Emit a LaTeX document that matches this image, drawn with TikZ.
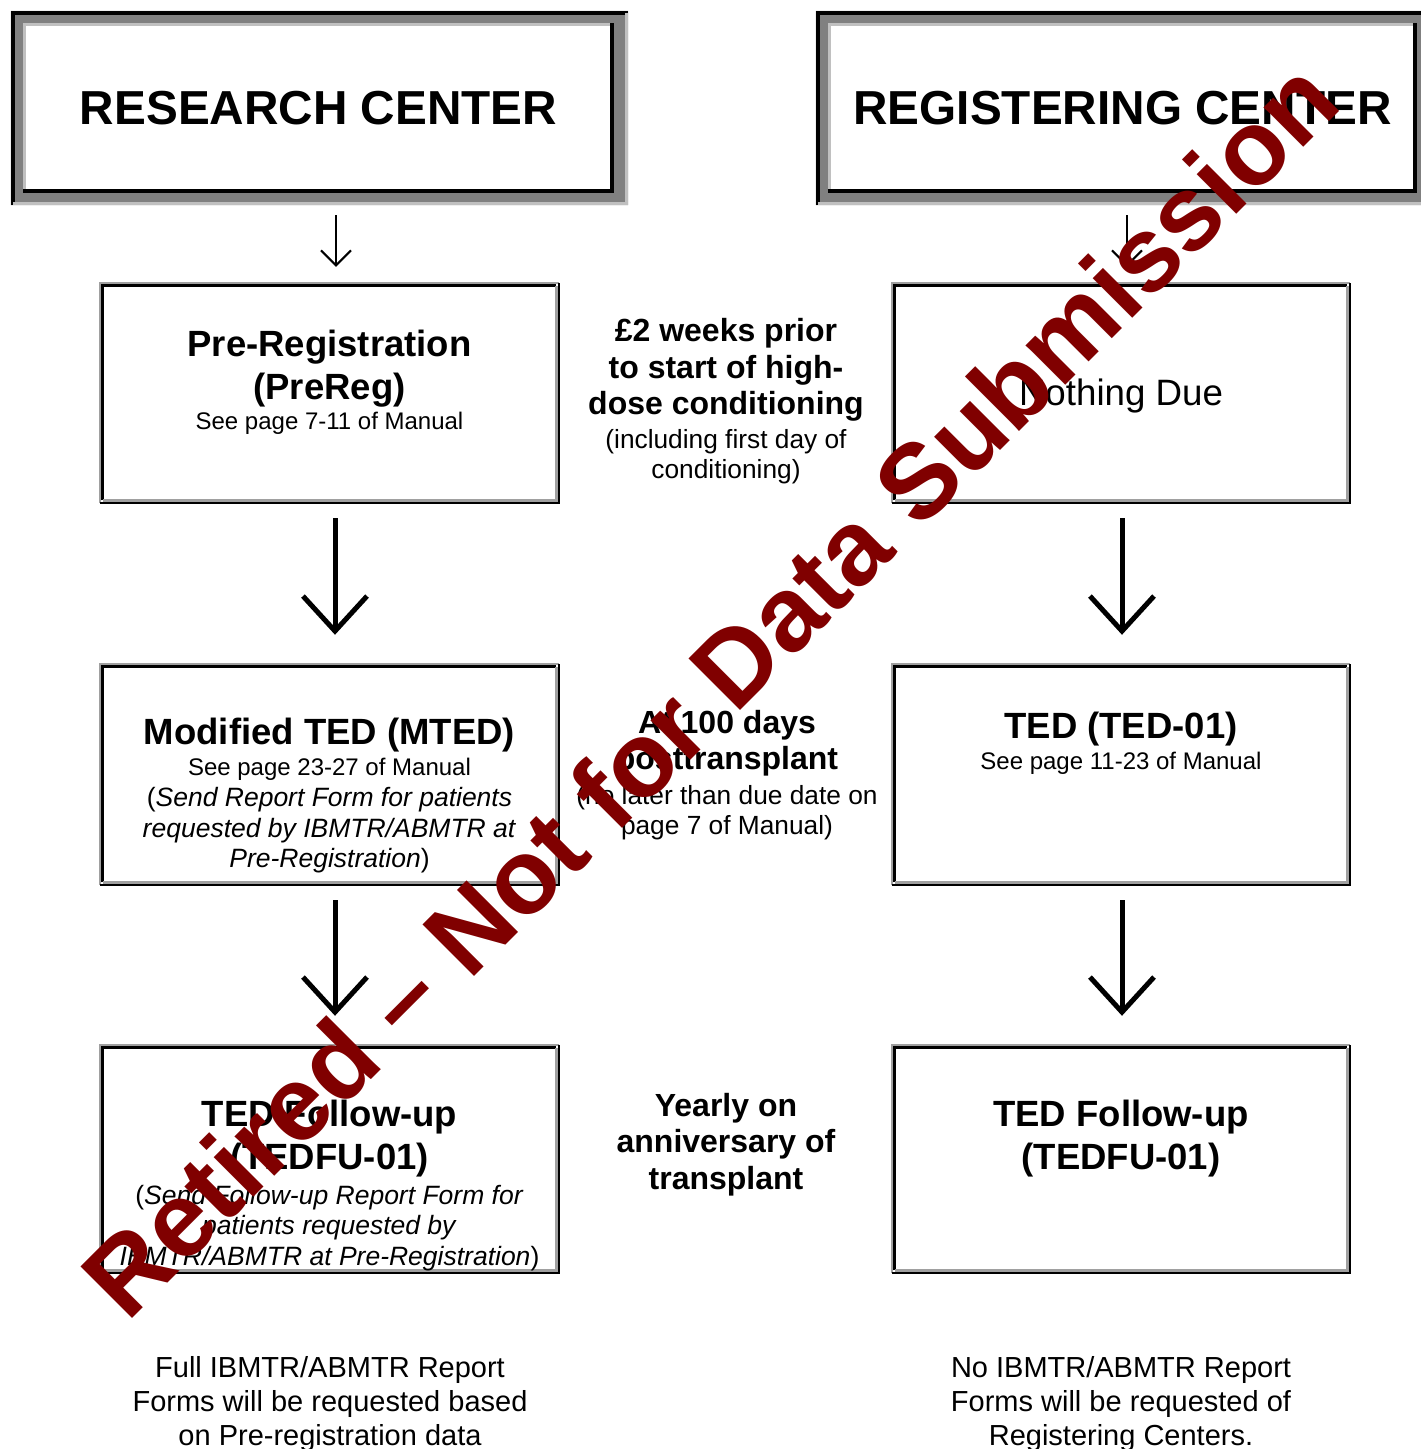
\documentclass[tikz,border=0pt]{standalone}
\usepackage{fontspec}
\setmainfont{Liberation Sans}
\usetikzlibrary{arrows.meta}
\definecolor{wmred}{RGB}{128,0,0}
\definecolor{hdrgrey}{RGB}{128,128,128}
\definecolor{hdrlight}{RGB}{192,192,192}
\definecolor{boxgrey}{RGB}{160,160,160}
\newcommand\hdrframe[1]{%
  \fill[hdrgrey,even odd rule] ([shift={(-12,-12)}]#1.south west) rectangle ([shift={(14,12)}]#1.north east) (#1.south west) rectangle (#1.north east);
  \draw[line width=4pt] ([shift={(-10,-12)}]#1.south west) |- ([shift={(14,10)}]#1.north east);
  \draw[hdrlight,line width=3pt] ([shift={(-10,-10.5)}]#1.south west) -| ([shift={(12.5,10)}]#1.north east);
  \draw[hdrlight,line width=3pt] ([shift={(1.5,0)}]#1.south west) |- ([shift={(0,-1.5)}]#1.north east);
  \draw[line width=4pt] ([shift={(0,2)}]#1.south west) -| ([shift={(-2,0)}]#1.north east);}
\newcommand\bevel[1]{%
  \draw[boxgrey,line width=2.5pt] ([shift={(1.25,1.25)}]#1.south west) |- ([shift={(-1.25,-1.25)}]#1.north east);
  \draw[line width=2.5pt] ([shift={(1.25,1.25)}]#1.south west) -| ([shift={(-1.25,-1.25)}]#1.north east);
  \draw[line width=2.5pt] ([shift={(3.75,3.75)}]#1.south west) |- ([shift={(-3.75,-3.75)}]#1.north east);
  \draw[boxgrey,line width=2.5pt] ([shift={(3.75,3.75)}]#1.south west) -| ([shift={(-3.75,-3.75)}]#1.north east);}
\begin{document}
\begin{tikzpicture}[x=1pt,y=1pt,line join=miter,
  hdr/.style={minimum height=170pt,inner sep=0,fill=white,font=\fontsize{47.7}{55}\selectfont\bfseries},
  box/.style={minimum width=461pt,minimum height=222pt,inner sep=0},
  ttl/.style={align=center,inner sep=0,font=\fontsize{36.5}{43}\selectfont\bfseries},
  sub/.style={anchor=base,inner sep=0,font=\fontsize{24}{28}\selectfont},
  note/.style={align=center,inner sep=0,font=\fontsize{26.5}{30.5}\selectfont},
  midb/.style={align=center,inner sep=0,font=\fontsize{32}{36.5}\selectfont\bfseries},
  midr/.style={align=center,inner sep=0,font=\fontsize{26.3}{30}\selectfont},
  foot/.style={align=center,inner sep=0,font=\fontsize{29}{34}\selectfont},
  thinarr/.style={line width=2pt,-{Straight Barb[length=15pt,width=30pt]},shorten <=22pt,shorten >=15pt},
  bigarr/.style={line width=5pt,-{Straight Barb[length=35pt,width=64pt]},shorten <=14pt,shorten >=28pt},
  wm/.style={rotate=45,anchor=base,inner sep=0,text=wmred,font=\fontsize{106}{112}\selectfont\bfseries}]
\useasboundingbox (0,0) rectangle (1421,1449);
\node[hdr,minimum width=591pt] (resc) at (318.5,1341) {RESEARCH CENTER};
\node[hdr,minimum width=589pt] (regc) at (1122.5,1341) {REGISTERING CENTER};
\hdrframe{resc}\hdrframe{regc}
\node[box] (prebox) at (329.5,1056) {};
\node[box,minimum height=223pt] (mtedbox) at (329.5,674.5) {};
\node[box,minimum height=230pt] (fubox) at (329.5,290) {};
\node[box,minimum width=460pt] (nobox) at (1121,1056) {};
\node[box,minimum width=460pt,minimum height=223pt] (tedbox) at (1121,674.5) {};
\node[box,minimum width=460pt,minimum height=230pt] (furbox) at (1121,290) {};
\bevel{prebox}\bevel{mtedbox}\bevel{fubox}\bevel{nobox}\bevel{tedbox}\bevel{furbox}
\node[ttl] (preT) at (329.5,1080.4) {Pre-Registration\\(PreReg)};
\node[sub] (preS) at (329.5,1019.4) {See page 7-11 of Manual};
\node[midb] (mid1b) at (726,1078.8) {£2 weeks prior\\to start of high-\\dose conditioning};
\node[midr] (mid1r) at (726,992.3) {(including first day of\\conditioning)};
\node[anchor=base,inner sep=0,font=\fontsize{36.7}{42}\selectfont] (noT) at (1121,1043.8) {Nothing Due};
\node[ttl,anchor=base] (mtedT) at (329.5,704) {Modified TED (MTED)};
\node[sub] (mtedS) at (329.5,673.4) {See page 23-27 of Manual};
\node[note] (mtedN) at (329.5,618.8) {(\textit{Send Report Form for patients}\\\textit{requested by IBMTR/ABMTR at}\\\textit{Pre-Registration})};
\node[midb] (mid2b) at (727,705.8) {At 100 days\\posttransplant};
\node[midr] (mid2r) at (727,636.3) {(no later than due date on\\page 7 of Manual)};
\node[ttl,anchor=base] (tedT) at (1121,710) {TED (TED-01)};
\node[sub] (tedS) at (1121,679.4) {See page 11-23 of Manual};
\node[ttl] (fuT) at (329.5,310.4) {TED Follow-up\\(TEDFU-01)};
\node[note] (fuN) at (329.5,221.3) {(\textit{Send Follow-up Report Form for}\\\textit{patients requested by}\\\textit{IBMTR/ABMTR at Pre-Registration})};
\node[midb] (mid3b) at (726,304.4) {Yearly on\\anniversary of\\transplant};
\node[ttl] (furT) at (1121,310.4) {TED Follow-up\\(TEDFU-01)};
\node[foot] (footL) at (330,45.1) {Full IBMTR/ABMTR Report\\Forms will be requested based\\on Pre-registration data};
\node[foot] (footR) at (1121,45.1) {No IBMTR/ABMTR Report\\Forms will be requested of\\Registering Centers.};
\draw[thinarr] ([xshift=17.5]resc.south) -- ([xshift=6.5]prebox.north);
\draw[thinarr] ([xshift=4.5]regc.south) -- ([xshift=6]nobox.north);
\draw[bigarr] ([xshift=5.5]prebox.south) -- ([xshift=5.5]mtedbox.north);
\draw[bigarr] ([xshift=5.5]mtedbox.south) -- ([xshift=5.5]fubox.north);
\draw[bigarr] ([xshift=1]nobox.south) -- ([xshift=1]tedbox.north);
\draw[bigarr] ([xshift=1]tedbox.south) -- ([xshift=1]furbox.north);
\node[wm] (retired) at (736,734) {Retired -- Not for Data Submission};
\end{tikzpicture}
\end{document}
